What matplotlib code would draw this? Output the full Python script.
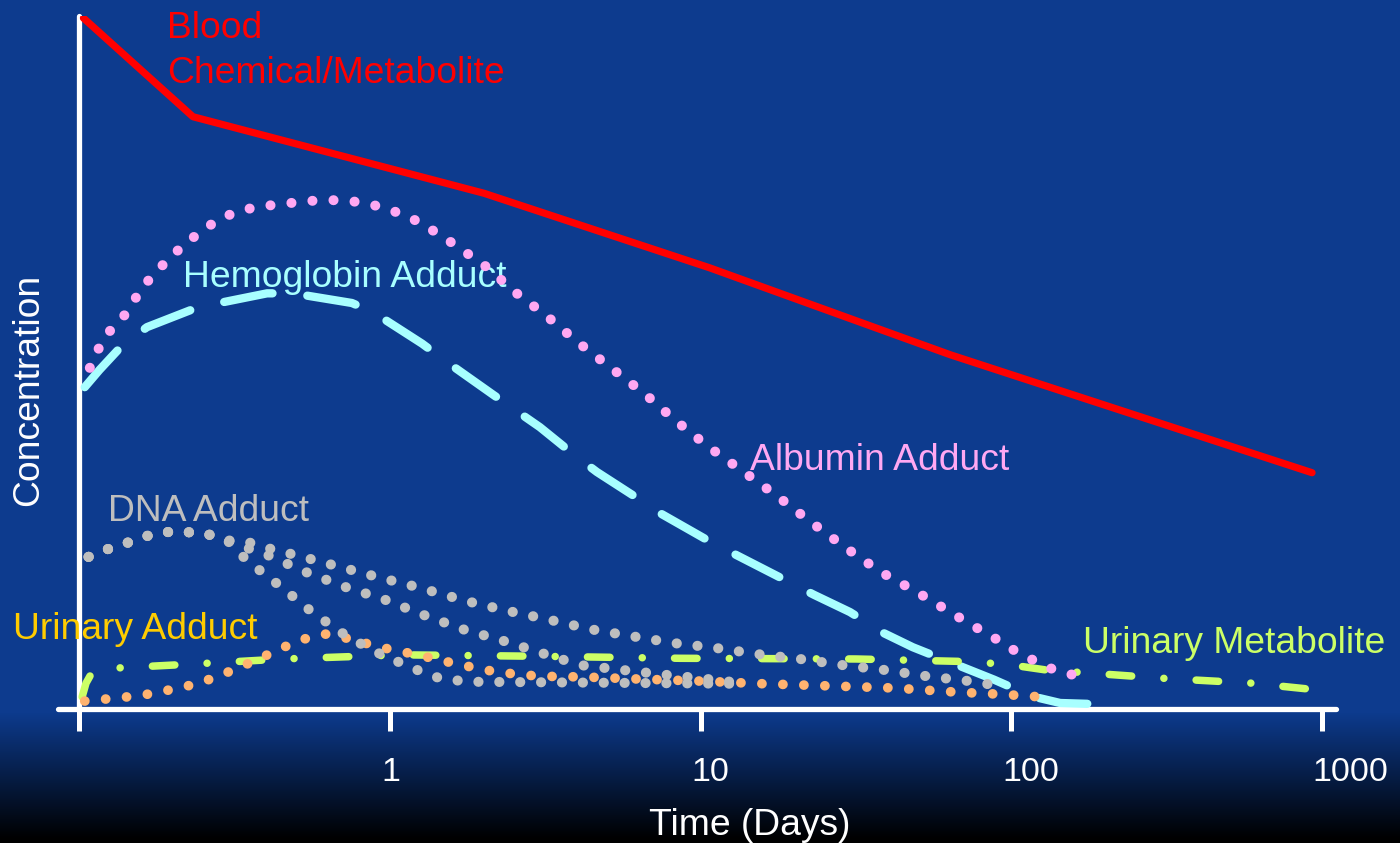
import numpy as np
import matplotlib
matplotlib.use('Agg')
import matplotlib.pyplot as plt
from matplotlib.colors import to_rgb

plt.rcParams['font.family'] = ['Liberation Sans', 'DejaVu Sans']

# ---- data (time in days, concentration in arbitrary units 0-100) ----
blood_days = [0.103, 0.232, 2.01, 10.7, 63.7, 932]
blood_conc = [100, 85.7, 74.6, 63.8, 51.2, 34.1]

albumin_days = [0.108, 0.115, 0.1245, 0.139, 0.161, 0.179, 0.200, 0.225, 0.257, 0.296,
                0.344, 0.402, 0.502, 0.590, 0.690, 0.807, 0.942, 1.09, 1.26, 1.55,
                2.01, 2.56, 3.16, 4.03, 5.15, 6.63, 8.34, 10.65, 13.8, 17.8,
                22.9, 29.4, 38.1, 50.2, 67.0, 77.7, 89.5, 102, 117, 135, 158]
albumin_conc = [49.3, 52.0, 54.5, 56.8, 61.2, 63.5, 65.7, 67.7, 69.7, 71.3,
                72.3, 72.8, 73.3, 73.6, 73.6, 73.3, 72.6, 71.6, 70.3, 67.7,
                64.2, 60.1, 57.0, 53.0, 49.3, 45.5, 41.6, 37.8, 34.2, 30.6,
                26.8, 23.2, 19.7, 16.7, 13.3, 11.6, 10.0, 8.4, 7.0, 5.7, 4.8]

hemo_days = [0.104, 0.116, 0.137, 0.165, 0.232, 0.261, 0.402, 0.487, 0.754, 0.881,
             1.27, 1.53, 2.15, 3.04, 3.89, 4.64, 6.68, 7.30, 10.65, 13.0,
             19.0, 23.2, 30.3, 38.7, 48.3, 88.2, 105, 123, 144, 176]
hemo_conc = [46.5, 49.0, 52.5, 55.2, 57.8, 58.4, 60.1, 60.1, 58.7, 57.4,
             52.8, 50.1, 45.4, 40.7, 36.8, 34.2, 29.6, 28.4, 24.2, 22.2,
             18.4, 16.4, 13.9, 10.9, 8.8, 4.1, 2.6, 1.45, 0.72, 0.6]

dna_head_days = [0.107, 0.119, 0.140, 0.160, 0.189, 0.214, 0.250, 0.299]
dna_head_conc = [21.9, 22.8, 23.8, 24.8, 25.5, 25.5, 25.4, 24.3]
dna_fast_days = [0.346, 0.442, 0.565, 0.732, 0.942, 1.27, 1.47, 1.82, 14.2]
dna_fast_conc = [21.4, 17.7, 13.8, 10.3, 7.7, 5.2, 4.2, 3.8, 3.5]
dna_mid_days = [0.346, 0.402, 0.536, 0.722, 0.950, 1.28, 1.72, 2.33, 3.16, 4.12,
                5.63, 7.74, 10.5, 14.2]
dna_mid_conc = [23.2, 22.2, 19.7, 17.5, 15.8, 13.5, 11.4, 9.7, 7.8, 6.2,
                5.5, 4.8, 4.2, 3.5]
dna_slow_days = [0.362, 0.423, 0.494, 0.670, 0.908, 1.23, 1.76, 2.38, 3.25, 4.44,
                 6.02, 8.22, 11.2, 15.3, 20.9, 28.8, 39.3, 53.6, 73.2, 97.6]
dna_slow_conc = [23.9, 22.9, 22.2, 20.6, 19.0, 17.5, 15.5, 14.1, 12.8, 11.4,
                 10.4, 9.4, 8.7, 7.8, 7.1, 6.2, 5.5, 4.6, 3.9, 3.0]

uadd_days = [0.104, 0.122, 0.142, 0.166, 0.194, 0.215, 0.250, 0.290, 0.336, 0.390,
             0.449, 0.521, 0.604, 0.650, 0.754, 0.881, 1.02, 1.20, 1.40, 1.63,
             1.89, 2.21, 2.56, 3.02, 4.15, 6.25, 9.96, 16.1, 25.9, 41.7,
             66.5, 91.5, 125]
uadd_conc = [1.0, 1.3, 1.6, 2.0, 2.6, 3.0, 3.8, 4.9, 6.1, 7.4,
             8.7, 9.9, 10.7, 10.7, 9.9, 9.1, 8.4, 7.8, 7.1, 6.4,
             5.8, 5.2, 4.9, 4.6, 4.5, 4.2, 3.9, 3.5, 3.2, 2.9,
             2.3, 2.0, 1.6]

umet_days = [0.102, 0.105, 0.109, 0.116, 0.133, 0.239, 0.452, 1.09, 2.93, 8.59,
             31.7, 76.6, 105, 130, 309, 593, 905]
umet_conc = [1.6, 3.6, 4.9, 5.5, 5.8, 6.4, 7.1, 7.7, 7.5, 7.2,
             7.1, 6.7, 6.1, 5.5, 4.3, 3.6, 2.75]

xticks = [0.1, 1, 10, 100, 1000]
xtick_labels = ['', '1', '10', '100', '1000']

# ---- colours ----
bg_blue = '#0D3B8E'
c_red = '#FF0000'
c_pink = '#FFA8F2'
c_cyan = '#A8FFFF'
c_gray = '#BEBEBE'
c_orange = '#FFB370'
c_gold = '#FFCC00'
c_lime = '#CCFF66'

W, H = 1400, 843
fig = plt.figure(figsize=(W / 100, H / 100), dpi=100)

# background: flat blue fading to black at the bottom
bg = fig.add_axes([0, 0, 1, 1], zorder=-10)
rows = np.arange(H)
fade = np.clip((rows - 712) / (838 - 712), 0, 1)
img = np.array(to_rgb(bg_blue))[None, :] * (1 - fade)[:, None]
bg.imshow(img[:, None, :], aspect='auto', extent=[0, 1, 0, 1], origin='upper')
bg.axis('off')

ax = fig.add_axes([58 / W, (H - 709) / H, (1336 - 58) / W, (709 - 16) / H])
ax.set_facecolor('none')
ax.set_xscale('log')
ax.set_xlim(0.0853, 1113)
ax.set_ylim(-0.15, 100.3)

for s in ['top', 'right']:
    ax.spines[s].set_visible(False)
ax.spines['left'].set_position(('data', 0.1))
for s in ['left', 'bottom']:
    ax.spines[s].set_color('white')
    ax.spines[s].set_linewidth(3.8)
    ax.spines[s].set_capstyle('round')

ax.set_xticks(xticks)
ax.set_xticklabels([''] * len(xticks))
ax.xaxis.set_minor_locator(matplotlib.ticker.NullLocator())
ax.tick_params(axis='x', direction='out', length=16, width=3.6, color='white')
ax.set_yticks([])

for t, lab in zip(xticks, xtick_labels):
    ax.annotate(lab, xy=(t, 0), xycoords=('data', 'axes fraction'),
                xytext=(-6.5, -52), textcoords='offset points',
                ha='left', va='baseline', color='white', fontsize=24.5)

# curves
ax.plot(hemo_days, hemo_conc, color=c_cyan, lw=6, linestyle=(0, (5.9, 4.2)),
        dash_capstyle='round', solid_joinstyle='round', zorder=3)
ax.plot(blood_days, blood_conc, color=c_red, lw=5.2, solid_capstyle='round',
        solid_joinstyle='round', zorder=3)
ax.plot(umet_days, umet_conc, color=c_lime, lw=5.4, linestyle=(0, (3.0, 4.3, 0.01, 4.3)),
        dash_capstyle='round', zorder=4)
ax.plot(uadd_days, uadd_conc, color=c_orange, lw=7.0, linestyle=(0, (0.01, 2.15)),
        dash_capstyle='round', zorder=5)
for tail_d, tail_c in [(dna_fast_days, dna_fast_conc), (dna_mid_days, dna_mid_conc),
                       (dna_slow_days, dna_slow_conc)]:
    ax.plot(dna_head_days + tail_d, dna_head_conc + tail_c, color=c_gray, lw=7.3,
            linestyle=(0, (0.01, 2.05)), dash_capstyle='round', zorder=6)
ax.plot(albumin_days, albumin_conc, color=c_pink, lw=7.2, linestyle=(0, (0.01, 2.1)),
        dash_capstyle='round', zorder=7)

# series labels
fs = 26.8
ax.text(0.191, 97.1, 'Blood', color=c_red, fontsize=fs, va='baseline')
ax.text(0.191, 90.6, 'Chemical/Metabolite', color=c_red, fontsize=fs, va='baseline')
ax.text(0.215, 61.0, 'Hemoglobin Adduct', color=c_cyan, fontsize=fs, va='baseline', zorder=5)
ax.text(14.4, 34.5, 'Albumin Adduct', color=c_pink, fontsize=fs, va='baseline')
ax.text(0.1235, 27.1, 'DNA Adduct', color=c_gray, fontsize=fs, va='baseline')
ax.text(0.0611, 10.0, 'Urinary Adduct', color=c_gold, fontsize=fs, va='baseline')
ax.text(170.6, 8.0, 'Urinary Metabolite', color=c_lime, fontsize=fs, va='baseline')

fig.text(750 / W, (H - 835) / H, 'Time (Days)', color='white', fontsize=26.8,
         ha='center', va='baseline')
fig.text(29 / W, 1 - 390 / H, 'Concentration', color='white', fontsize=26.8,
         rotation=90, ha='center', va='center')

fig.savefig('out.png', dpi=100)
